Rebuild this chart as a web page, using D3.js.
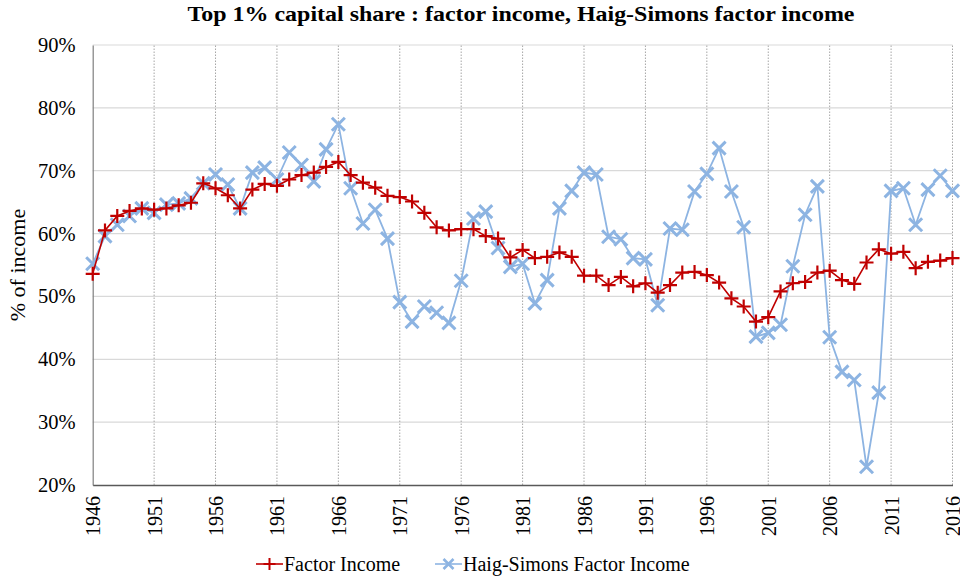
<!DOCTYPE html>
<html>
<head>
<meta charset="utf-8">
<script src="https://cdn.jsdelivr.net/npm/d3@7"></script>
<style>
  body { margin: 0; background: #fff; }
  text { font-family: "Liberation Serif", "DejaVu Serif", serif; }
</style>
</head>
<body>
<div id="chart"></div>
<script>
const width = 960, height = 580;

const years = d3.range(1946, 2017);
const tickYears = [1946, 1951, 1956, 1961, 1966, 1971, 1976, 1981, 1986, 1991, 1996, 2001, 2006, 2011, 2016];
const yTicks = [20, 30, 40, 50, 60, 70, 80, 90];

const factorIncome = [
  53.6, 60.5, 62.8, 63.6, 64.0, 63.8, 64.0, 64.5, 64.9, 68.0,
  67.2, 66.1, 64.0, 67.0, 67.9, 67.6, 68.6, 69.3, 69.7, 70.6,
  71.4, 69.3, 68.1, 67.3, 66.0, 65.8, 65.1, 63.3, 61.0, 60.5,
  60.7, 60.7, 59.6, 59.2, 56.2, 57.4, 56.1, 56.3, 57.0, 56.3,
  53.3, 53.3, 51.8, 53.1, 51.6, 52.1, 50.6, 51.8, 53.8, 53.9,
  53.4, 52.2, 49.7, 48.4, 46.0, 46.7, 50.8, 52.1, 52.3, 53.8,
  54.1, 52.6, 52.0, 55.4, 57.5, 56.8, 57.1, 54.5, 55.5, 55.7,
  56.1
];

const haigSimons = [
  55.2, 59.6, 61.4, 62.8, 64.0, 63.3, 64.6, 64.8, 65.6, 68.0,
  69.4, 67.8, 64.0, 69.7, 70.5, 68.6, 72.9, 70.9, 68.3, 73.4,
  77.4, 67.2, 61.6, 63.8, 59.2, 49.1, 46.0, 48.4, 47.4, 45.8,
  52.5, 62.4, 63.5, 57.7, 54.7, 55.2, 48.9, 52.6, 64.0, 66.8,
  69.7, 69.4, 59.5, 59.1, 56.1, 55.9, 48.6, 60.8, 60.6, 66.7,
  69.5, 73.6, 66.7, 61.0, 43.6, 44.2, 45.5, 54.8, 63.0, 67.5,
  43.5, 38.0, 36.7, 22.9, 34.7, 66.8, 67.2, 61.4, 67.0, 69.2,
  66.8
];

const seriesNames = ["Factor Income", "Haig-Simons Factor Income"];
const red = "#c00000", blue = "#8db4e2";

const margin = { left: 92.7, right: 7.5, top: 45, bottom: 95 };
const svg = d3.select("#chart").append("svg")
  .attr("width", width)
  .attr("height", height);

const x = d3.scaleLinear().domain([1946, 2016]).range([margin.left, width - margin.right]);
const y = d3.scaleLinear().domain([20, 90]).range([height - margin.bottom, margin.top]);

// horizontal grid
svg.append("g")
  .selectAll("line")
  .data(yTicks.slice(1))
  .enter().append("line")
  .attr("x1", x(1946)).attr("x2", x(2016))
  .attr("y1", d => y(d)).attr("y2", d => y(d))
  .attr("stroke", "#d9d9d9").attr("stroke-width", 1.2);

// vertical dotted grid
svg.append("g")
  .selectAll("line")
  .data(tickYears.slice(1))
  .enter().append("line")
  .attr("x1", d => x(d)).attr("x2", d => x(d))
  .attr("y1", y(20)).attr("y2", y(90))
  .attr("stroke", "#a6a6a6").attr("stroke-width", 1)
  .attr("stroke-dasharray", "1.5 1.5");

// axes
const yAxis = svg.append("g")
  .attr("transform", `translate(${x(1946)},0)`)
  .call(d3.axisLeft(y).tickValues(yTicks).tickSize(0).tickPadding(17).tickFormat(d => d + "%"));
yAxis.select(".domain").attr("stroke", "#7f7f7f").attr("stroke-width", 1.2);
yAxis.selectAll("text").attr("font-size", 20.5).attr("fill", "#000")
  .attr("font-family", "Liberation Serif");

const xAxis = svg.append("g")
  .attr("transform", `translate(0,${y(20)})`)
  .call(d3.axisBottom(x).tickValues(tickYears).tickSize(0).tickFormat(d3.format("d")));
xAxis.select(".domain").attr("stroke", "#595959").attr("stroke-width", 1.5);
xAxis.selectAll("text")
  .attr("font-size", 20).attr("fill", "#000")
  .attr("font-family", "Liberation Serif")
  .attr("transform", "rotate(-90)")
  .attr("text-anchor", "end")
  .attr("dy", "0.35em")
  .attr("x", -11)
  .attr("y", 0);

// lines
const line = d3.line().x((d, i) => x(years[i])).y(d => y(d));

svg.append("path").datum(haigSimons)
  .attr("fill", "none").attr("stroke", blue).attr("stroke-width", 1.8)
  .attr("d", line);

svg.append("g").selectAll("path")
  .data(haigSimons)
  .enter().append("path")
  .attr("transform", (d, i) => `translate(${x(years[i])},${y(d)})`)
  .attr("d", "M-6.5,-6.5L6.5,6.5M-6.5,6.5L6.5,-6.5")
  .attr("stroke", blue).attr("stroke-width", 3).attr("fill", "none");

svg.append("path").datum(factorIncome)
  .attr("fill", "none").attr("stroke", red).attr("stroke-width", 1.6)
  .attr("d", line);

svg.append("g").selectAll("path")
  .data(factorIncome)
  .enter().append("path")
  .attr("transform", (d, i) => `translate(${x(years[i])},${y(d)})`)
  .attr("d", "M-7,0L7,0M0,-7L0,7")
  .attr("stroke", red).attr("stroke-width", 2.2).attr("fill", "none");

// title
svg.append("text")
  .attr("x", 521).attr("y", 21)
  .attr("text-anchor", "middle")
  .attr("font-size", 21).attr("font-weight", "bold")
  .attr("textLength", 667).attr("lengthAdjust", "spacingAndGlyphs")
  .text("Top 1% capital share : factor income, Haig-Simons factor income");

// y title
svg.append("text")
  .attr("transform", `translate(25,${(y(20) + y(90)) / 2}) rotate(-90)`)
  .attr("text-anchor", "middle")
  .attr("font-size", 22)
  .text("% of income");

// legend
const legend = svg.append("g").attr("transform", "translate(0,564)");
const legendItems = [
  { name: seriesNames[0], color: red, x0: 256, mark: "M-6,0L6,0M0,-6L0,6", sw: 2 },
  { name: seriesNames[1], color: blue, x0: 435, mark: "M-5,-5L5,5M-5,5L5,-5", sw: 2.6 }
];
legendItems.forEach(it => {
  legend.append("line")
    .attr("x1", it.x0).attr("x2", it.x0 + 27).attr("y1", 0).attr("y2", 0)
    .attr("stroke", it.color).attr("stroke-width", 1.6);
  legend.append("path")
    .attr("transform", `translate(${it.x0 + 13.5},0)`)
    .attr("d", it.mark).attr("stroke", it.color).attr("stroke-width", it.sw).attr("fill", "none");
  legend.append("text")
    .attr("x", it.x0 + 28).attr("y", 0).attr("dy", "0.35em")
    .attr("font-size", 20)
    .text(it.name);
});
</script>
</body>
</html>
